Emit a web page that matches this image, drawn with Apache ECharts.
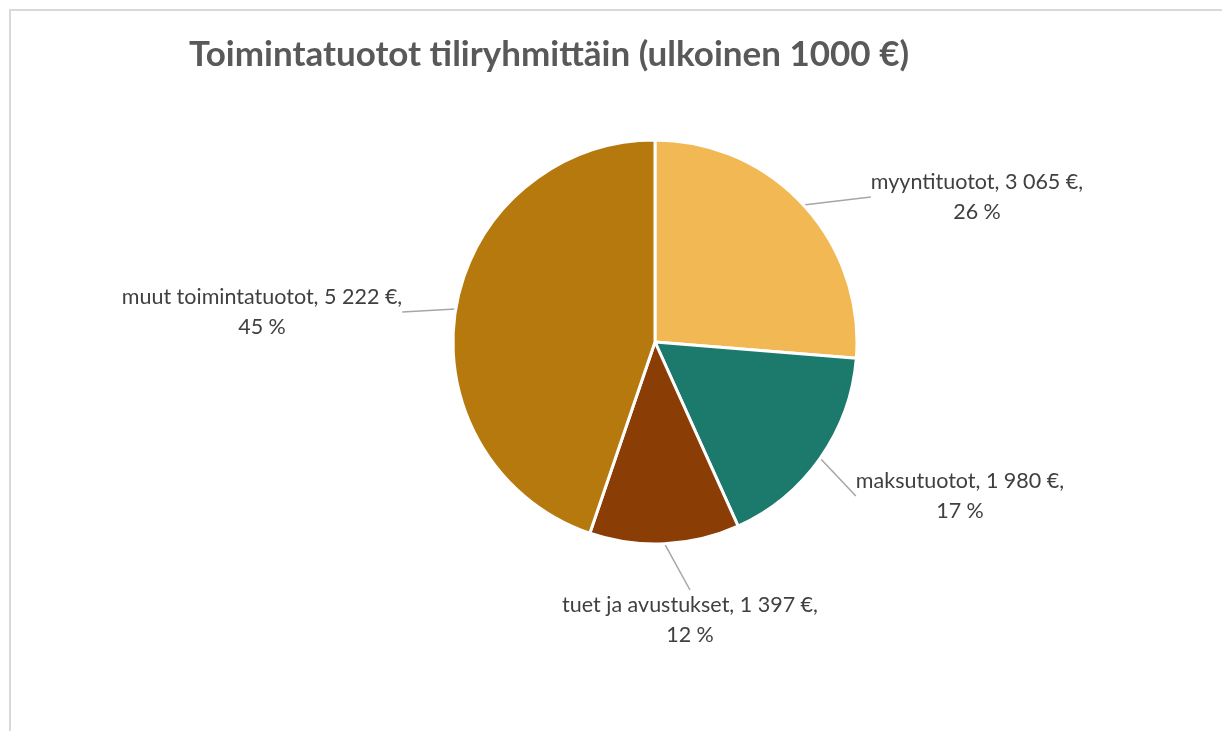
<!DOCTYPE html>
<html>
<head>
<meta charset="utf-8">
<script src="https://cdn.jsdelivr.net/npm/echarts@6/dist/echarts.min.js"></script>
<style>
html, body { margin: 0; padding: 0; background: #fff; }
#chart { width: 1222px; height: 731px; }
</style>
</head>
<body>
<div id="chart"></div>
<script>
'use strict';
// data
var categories = ['myyntituotot', 'maksutuotot', 'tuet ja avustukset', 'muut toimintatuotot'];
var values = [3065, 1980, 1397, 5222];
var colors = ['#F2B854', '#1B7A6C', '#8B3D06', '#B5790E'];
// label centres (layout only)
var labelPos = [[977, 197], [960, 496], [690, 620], [262, 312]];

var fmtNum = function(v) {
	return String(v).replace(/\B(?=(\d{3})+(?!\d))/g, ' ');
};

var pieData = categories.map(function(name, i) {
	return { name: name, value: values[i], itemStyle: { color: colors[i] } };
});

var myChart = echarts.init(document.getElementById('chart'));
var option = {
	backgroundColor: '#fff',
	animation: false,
	title: {
		text: 'Toimintatuotot tiliryhmittäin (ulkoinen 1000 €)',
		left: 544,
		top: 32,
		textAlign: 'center',
		textStyle: {
			fontFamily: 'Lato',
			fontWeight: 'bold',
			fontSize: 35,
			color: '#595959'
		}
	},
	graphic: [{
		type: 'rect',
		shape: { x: 10, y: 10, width: 1300, height: 800 },
		style: { fill: null, stroke: '#d9d9d9', lineWidth: 2 },
		silent: true
	}],
	series: [{
		type: 'pie',
		center: [655, 342],
		radius: 202,
		startAngle: 90,
		clockwise: true,
		itemStyle: { borderColor: '#fff', borderWidth: 3 },
		label: {
			show: true,
			position: 'outside',
			fontFamily: 'Lato',
			fontSize: 21.5,
			lineHeight: 30,
			color: '#404040',
			align: 'center',
			formatter: function(p) {
				return p.name + ', ' + fmtNum(p.value) + ' €,\n' + Math.round(p.percent) + ' %';
			}
		},
		labelLine: {
			show: true,
			length: 10,
			length2: 0,
			lineStyle: { color: '#a6a6a6', width: 1.5 }
		},
		labelLayout: function(params) {
			var pos = labelPos[params.dataIndex];
			return {
				x: pos[0],
				y: pos[1],
				align: 'center',
				verticalAlign: 'middle'
			};
		},
		data: pieData
	}]
};
myChart.setOption(option);
window.onresize = myChart.resize;
</script>
</body>
</html>
